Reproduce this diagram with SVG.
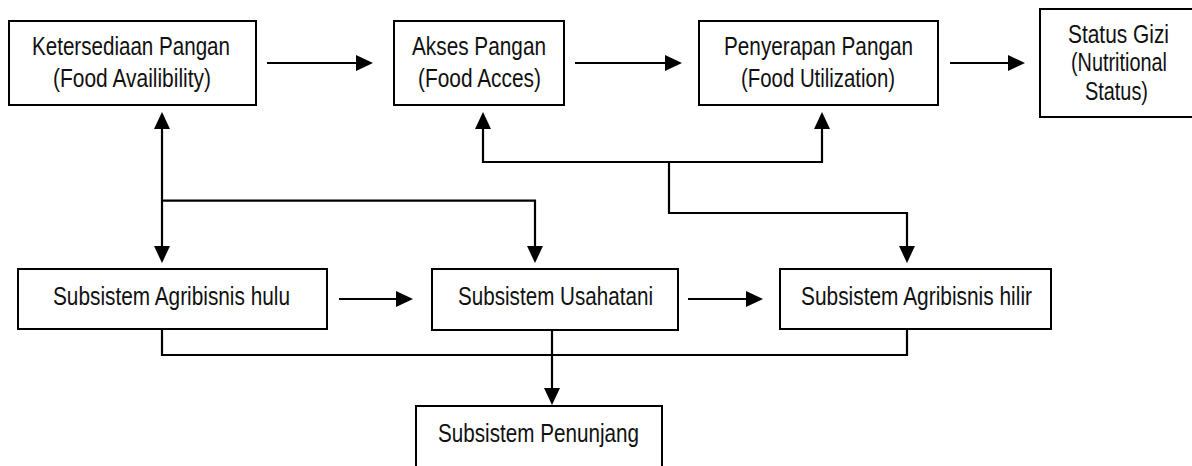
<svg xmlns="http://www.w3.org/2000/svg" width="1192" height="466" viewBox="0 0 1192 466">
  <style>
    .box { fill: #ffffff; stroke: #000000; stroke-width: 2; }
    .lbl { font-family: "Liberation Sans Narrow", "Liberation Sans", Arial, sans-serif; font-size: 25px; fill: #111111; text-anchor: middle; }
    .con { fill: none; stroke: #000000; stroke-width: 2.2; }
    .arr { marker-end: url(#ah); }
    .arr2 { marker-start: url(#ah); marker-end: url(#ah); }
  </style>
  <defs>
    <marker id="ah" viewBox="0 0 17 16" refX="9" refY="8" markerWidth="17" markerHeight="16" markerUnits="userSpaceOnUse" orient="auto-start-reverse">
      <path d="M0,0 L17,8 L0,16 z" fill="#000000"/>
    </marker>
  </defs>
  <rect x="0" y="0" width="1192" height="466" fill="#ffffff"/>

  <g id="n-ketersediaan">
    <rect class="box" x="9" y="21" width="247" height="84"/>
    <text class="lbl" x="131" y="55" textLength="198" lengthAdjust="spacingAndGlyphs">Ketersediaan Pangan</text>
    <text class="lbl" x="132" y="87" textLength="158" lengthAdjust="spacingAndGlyphs">(Food Availibility)</text>
  </g>
  <g id="n-akses">
    <rect class="box" x="394" y="21" width="170" height="84"/>
    <text class="lbl" x="479" y="55" textLength="134" lengthAdjust="spacingAndGlyphs">Akses Pangan</text>
    <text class="lbl" x="479.5" y="87" textLength="123" lengthAdjust="spacingAndGlyphs">(Food Acces)</text>
  </g>
  <g id="n-penyerapan">
    <rect class="box" x="699" y="21" width="239" height="84"/>
    <text class="lbl" x="818.5" y="55" textLength="189" lengthAdjust="spacingAndGlyphs">Penyerapan Pangan</text>
    <text class="lbl" x="818" y="87" textLength="154" lengthAdjust="spacingAndGlyphs">(Food Utilization)</text>
  </g>
  <g id="n-status">
    <rect class="box" x="1040" y="9" width="162" height="108"/>
    <text class="lbl" x="1118.5" y="42.5" textLength="101" lengthAdjust="spacingAndGlyphs">Status Gizi</text>
    <text class="lbl" x="1119" y="71" textLength="96" lengthAdjust="spacingAndGlyphs">(Nutritional</text>
    <text class="lbl" x="1116.5" y="100" textLength="63" lengthAdjust="spacingAndGlyphs">Status)</text>
  </g>
  <g id="n-hulu">
    <rect class="box" x="18" y="269" width="309" height="60"/>
    <text class="lbl" x="171.5" y="305" textLength="237" lengthAdjust="spacingAndGlyphs">Subsistem Agribisnis hulu</text>
  </g>
  <g id="n-usahatani">
    <rect class="box" x="432" y="269" width="246" height="61"/>
    <text class="lbl" x="555.5" y="305" textLength="195" lengthAdjust="spacingAndGlyphs">Subsistem Usahatani</text>
  </g>
  <g id="n-hilir">
    <rect class="box" x="780" y="269" width="271" height="60"/>
    <text class="lbl" x="916.5" y="305" textLength="231" lengthAdjust="spacingAndGlyphs">Subsistem Agribisnis hilir</text>
  </g>
  <g id="n-penunjang">
    <rect class="box" x="416" y="406" width="246" height="70"/>
    <text class="lbl" x="538.5" y="442" textLength="201" lengthAdjust="spacingAndGlyphs">Subsistem Penunjang</text>
  </g>

  <g id="connectors">
    <path class="con arr" d="M267,63 H365"/>
    <path class="con arr" d="M575,63 H674"/>
    <path class="con arr" d="M950,63 H1017"/>
    <path class="con arr2" d="M162,120 V255"/>
    <path class="con arr" d="M162,200.7 H535 V255"/>
    <path class="con arr2" d="M483,120 V162 H822 V120"/>
    <path class="con arr" d="M669,162 V213 H907 V255"/>
    <path class="con arr" d="M339,299 H405"/>
    <path class="con arr" d="M688,299 H755"/>
    <path class="con" d="M162,329 V355 H907 V329"/>
    <path class="con arr" d="M552,330 V397"/>
  </g>
</svg>
